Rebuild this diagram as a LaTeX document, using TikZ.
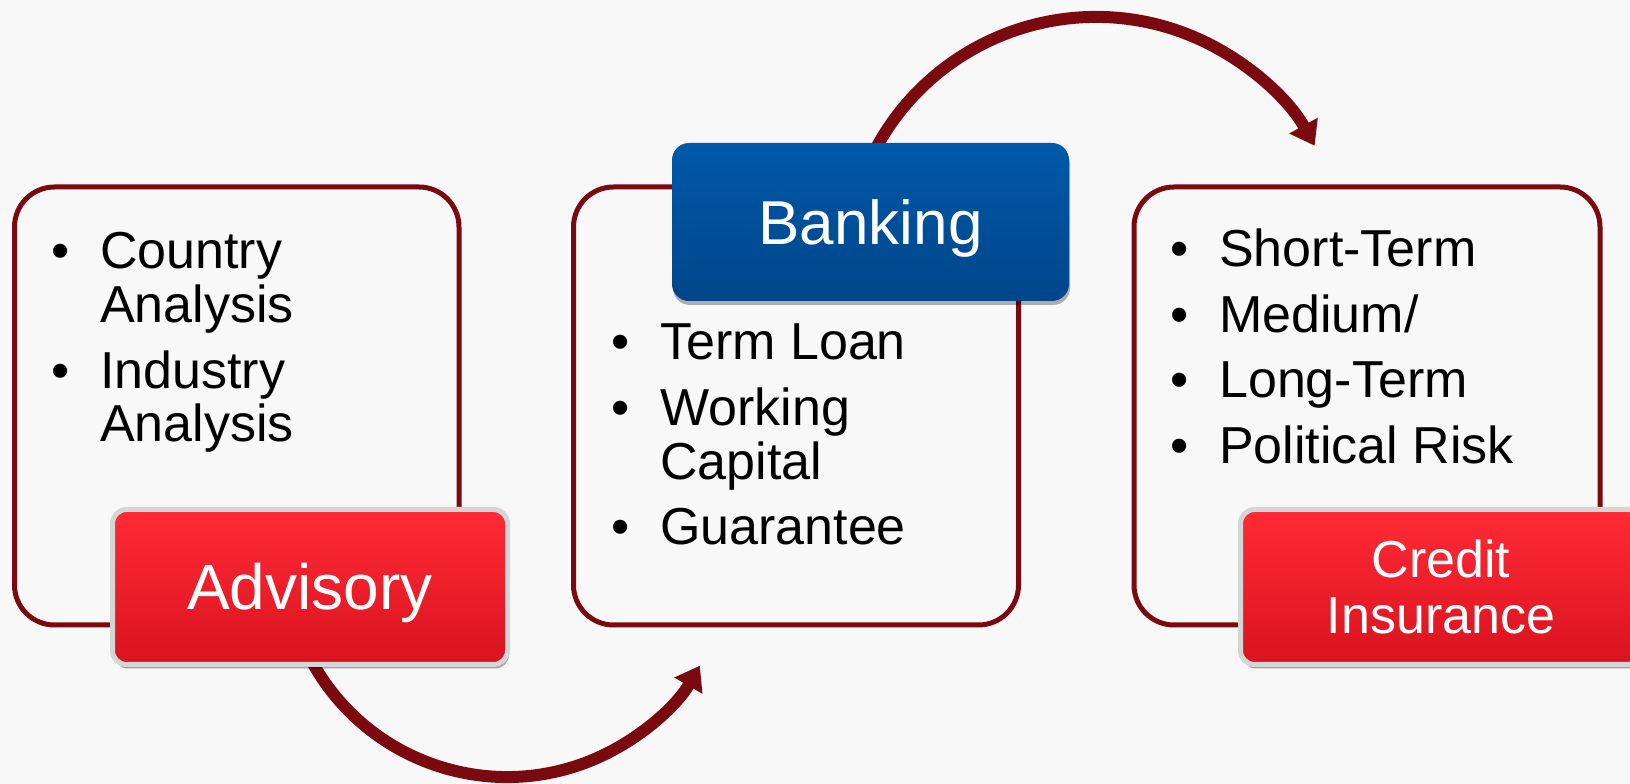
\documentclass[tikz,border=0pt]{standalone}
\usepackage{fontspec}
\setmainfont{Liberation Sans}
\usetikzlibrary{arrows.meta,shadows}
\definecolor{bg}{HTML}{F8F8F8}
\definecolor{frame}{HTML}{7B0A10}
\definecolor{redA}{HTML}{FF2B36}
\definecolor{redB}{HTML}{FF1F2C}
\definecolor{redC}{HTML}{D8131F}
\definecolor{blueA}{HTML}{0059A9}
\definecolor{blueB}{HTML}{00458A}
\definecolor{rim}{HTML}{D4D6D4}
\newcommand\bulitem{\makebox[49pt][l]{\textbullet}}
\newcommand\bulcont{\hspace*{49pt}}
\begin{document}
\begin{tikzpicture}[x=1pt,y=1pt,
  panel/.style={rectangle, draw=frame, line width=5pt, rounded corners=40pt, inner sep=0pt},
  redlabel/.style={rectangle, rounded corners=14pt, draw=rim, line width=5pt,
    top color=redA, middle color=redB, bottom color=redC, text=white,
    minimum height=155pt, inner sep=0pt, align=center,
    drop shadow={shadow xshift=1.5pt, shadow yshift=-4pt, fill=black, opacity=0.35}},
  bluelabel/.style={rectangle, rounded corners=17pt, top color=blueA, bottom color=blueB,
    text=white, minimum width=397pt, minimum height=158pt, inner sep=0pt,
    drop shadow={shadow xshift=1pt, shadow yshift=-4pt, fill=black, opacity=0.3}},
  flow/.style={draw=frame, line width=12pt, -{Triangle[length=23pt,width=31pt]}},
  bullets/.style={anchor=base west, inner sep=0pt, text=black,
    font=\fontsize{52}{53}\selectfont},
]
\useasboundingbox (0,0) rectangle (1630,784);
\fill[bg] (0,0) rectangle (1630,784);

% panels
\node[panel, minimum width=444.5pt, minimum height=438pt] (box1) at (236.75,378) {};
\node[panel, minimum width=445pt, minimum height=438pt] (box2) at (796,378) {};
\node[panel, minimum width=466pt, minimum height=438pt] (box3) at (1367,378) {};

% bullet texts
\node[bullets] (t1) at (51,515) {\begin{tabular}[t]{@{}l@{}}
\bulitem Country\\ \bulcont Analysis\\[12pt]
\bulitem Industry\\ \bulcont Analysis\end{tabular}};
\node[bullets] (t2) at (611,424) {\begin{tabular}[t]{@{}l@{}}
\bulitem Term Loan\\[12pt]
\bulitem Working\\ \bulcont Capital\\[12pt]
\bulitem Guarantee\end{tabular}};
\node[bullets] (t3) at (1170,517) {\begin{tabular}[t]{@{}l@{}}
\bulitem Short-Term\\[12pt]
\bulitem Medium/\\[12pt]
\bulitem Long-Term\\[12pt]
\bulitem Political Risk\end{tabular}};

% curved arrows
\coordinate (a1s) at (305.3,135.5);
\coordinate (a2s) at (869.4,622.7);
\draw[flow] (a1s) arc[start angle=205, end angle=330, radius=222.6];
\draw[flow] (a2s) arc[start angle=155, end angle=29, radius=250];

% labels
\node[redlabel, minimum width=395pt, font=\fontsize{64}{66}\selectfont,
  text height=45.8pt, text depth=0pt] (advisory) at (310,197) {Advisory};
\node[bluelabel, font=\fontsize{62}{64}\selectfont,
  text height=44.4pt, text depth=0pt] (banking) at (870.5,562) {Banking};
\node[redlabel, minimum width=401pt, font=\fontsize{52}{56}\selectfont,
  text height=93.2pt, text depth=0pt] (credit) at (1441,197) {Credit\\Insurance};
\end{tikzpicture}
\end{document}
